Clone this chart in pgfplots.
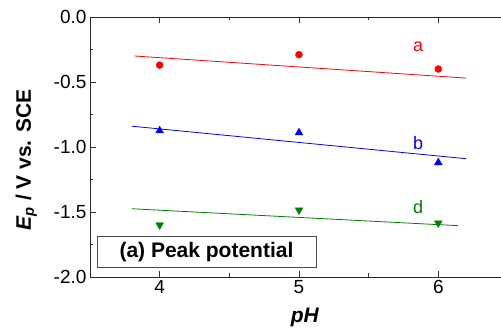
\documentclass[border=0pt]{standalone}
\usepackage{pgfplots}
\pgfplotsset{compat=1.18}
\usepackage{fontspec}
\setmainfont{Liberation Sans}
\definecolor{dgreen}{RGB}{0,128,0}
\begin{document}
\begin{tikzpicture}
\useasboundingbox (-90pt,-52pt) rectangle (411pt,277pt);
\begin{axis}[
 at={(0,0)}, anchor=south west, scale only axis, width=411pt, height=260pt,
 xmin=3.5, xmax=6.45, ymin=-2, ymax=0,
 axis x line=box, axis y line=left,
 axis line style={-, line width=0.9pt, black!85},
 xtick={4,5,6}, minor xtick={4.5,5.5},
 ytick={0,-0.5,-1,-1.5,-2}, minor ytick={-0.25,-0.75,-1.25,-1.75},
 yticklabel style={/pgf/number format/.cd, fixed, fixed zerofill, precision=1},
 xticklabel style={/pgf/number format/.cd, fixed, precision=0},
 /pgf/number format/assume math mode=true,
 tick align=inside, major tick length=6pt, minor tick length=3.5pt,
 tick style={line width=0.8pt, black!80},
 tick label style={font=\fontsize{19}{19}\selectfont},
 xlabel={\textbf{\textit{pH}}},
 ylabel={\textbf{\textit{E}\textsubscript{\textit{p}} / V vs. SCE}},
 xlabel style={at={(axis description cs:0.523,-0.154)}, anchor=center, font=\fontsize{21}{21}\selectfont},
 ylabel style={at={(axis description cs:-0.155,0.45)}, anchor=center, font=\fontsize{21}{21}\selectfont},
 clip=false,
]
% series a
\addplot[only marks, mark=*, mark size=3.5pt, color=red] coordinates {(4,-0.37) (5,-0.29) (6,-0.40)};
\addplot[red, line width=0.8pt, no marks] coordinates {(3.82,-0.30) (6.2,-0.47)};
% series b
\addplot[only marks, mark=triangle*, mark size=4.5pt, color=blue] coordinates {(4,-0.875) (5,-0.89) (6,-1.12)};
\addplot[blue, line width=0.8pt, no marks] coordinates {(3.8,-0.84) (6.2,-1.09)};
% series d
\addplot[only marks, mark=triangle*, mark size=4.5pt, mark options={rotate=180}, color=dgreen] coordinates {(4,-1.60) (5,-1.485) (6,-1.585)};
\addplot[dgreen, line width=0.8pt, no marks] coordinates {(3.8,-1.475) (6.14,-1.605)};
\node[red, font=\fontsize{18}{18}\selectfont] at (axis cs:5.855,-0.23) {a};
\node[blue, font=\fontsize{18}{18}\selectfont] at (axis cs:5.855,-0.97) {b};
\node[dgreen, font=\fontsize{18}{18}\selectfont] at (axis cs:5.855,-1.46) {d};
\node[draw=black!70, line width=0.9pt, minimum width=219pt, minimum height=31pt, inner sep=0pt, font=\bfseries\fontsize{21}{21}\selectfont] at (axis cs:4.336,-1.81) {(a) Peak potential};
\end{axis}
\end{tikzpicture}
\end{document}
